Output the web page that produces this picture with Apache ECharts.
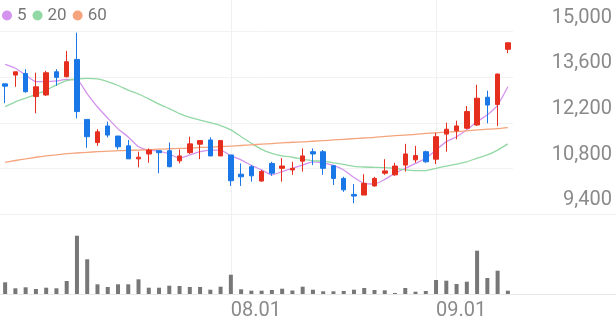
<!DOCTYPE html>
<html><head><meta charset="utf-8">
<script src="https://cdn.jsdelivr.net/npm/echarts@6/dist/echarts.min.js"></script>
<style>html,body{margin:0;padding:0;background:#fff}#c{width:616px;height:321px}</style>
</head><body><div id="c"></div>
<script>
const dates = ['07.02','07.03','07.04','07.07','07.08','07.09','07.10','07.11','07.14','07.15','07.16','07.17','07.18','07.21','07.22','07.23','07.24','07.25','07.28','07.29','07.30','07.31',
'08.01','08.04','08.05','08.06','08.07','08.08','08.11','08.12','08.13','08.14','08.18','08.19','08.20','08.21','08.22','08.25','08.26','08.27','08.28','08.29',
'09.01','09.02','09.03','09.04','09.05','09.08','09.09','09.10'];
const openP  = [13400,13670,13720,13010,13060,13770,13620,14150,12310,11600,12110,11800,11500,11100,11250,11350,11350,11040,11290,11550,11680,11190,11220,10630,10860,10420,10960,10810,10760,11030,11320,11320,10890,10500,10010,9990,10270,10660,10610,10910,11070,11320,11090,11860,11960,12040,12140,12990,12770,14460];
const closeP = [13330,13770,13160,13310,13740,13600,14080,12550,11780,11930,11830,11470,11100,11150,11370,11290,10860,11190,11560,11660,11190,11660,10430,10550,10580,10710,10660,10880,10810,11190,11250,10810,10500,10150,9960,10350,10500,10730,10880,11250,11200,11010,11780,12010,12110,12550,12960,12750,13700,14660];
const lowP   = [12810,13310,13130,12500,13030,13340,13600,12340,11440,11500,11760,11390,11100,10840,10980,10660,10840,10960,11250,11090,11190,11190,10270,10270,10400,10400,10580,10400,10610,10710,10910,10610,10300,10090,9740,9990,10250,10610,10580,10710,10980,10980,10940,11320,11700,12010,12110,12190,12110,14340];
const highP  = [13400,13770,13850,13740,13800,13850,14410,14970,12310,12010,12240,11800,11680,11320,11420,11350,11600,11390,11780,11660,11760,11660,11220,10960,10910,10760,11010,11120,11010,11420,11420,11370,10910,10550,10330,10630,10550,11090,10980,11560,11500,11350,11900,12210,12270,12720,13370,13190,13720,14660];
const ma5  = [14000,13880,13670,13470,13470,13490,13540,13530,13090,12690,12350,12020,11770,11470,11370,11340,11250,11120,11220,11320,11370,11370,11190,11070,10900,10760,10610,10710,10810,10910,11010,10970,10900,10760,10530,10350,10330,10470,10660,10810,10960,11120,11370,11630,11780,11990,12240,12450,12750,13310];
const ma20 = [12700,12850,12960,13080,13210,13370,13500,13550,13570,13550,13470,13350,13210,13090,12940,12780,12640,12490,12370,12290,12210,12120,11990,11780,11580,11390,11270,11190,11150,11090,11040,11030,10980,10930,10870,10850,10840,10830,10810,10760,10740,10740,10810,10880,10940,11010,11120,11220,11370,11560];
const ma60 = [10990,11050,11100,11150,11190,11220,11260,11280,11300,11320,11340,11350,11360,11370,11380,11400,11410,11420,11430,11450,11460,11480,11490,11510,11530,11550,11570,11590,11610,11620,11640,11660,11680,11700,11720,11740,11760,11790,11810,11830,11850,11880,11900,11920,11940,11960,11990,12010,12030,12060];
const volume = [117000,57000,67000,50000,63000,57000,130000,583000,347000,97000,70000,97000,97000,147000,63000,63000,83000,80000,70000,70000,43000,73000,193000,47000,33000,33000,40000,53000,35000,73000,43000,27000,27000,30000,43000,60000,40000,37000,10000,60000,23000,30000,140000,133000,100000,123000,433000,160000,233000,33000];
const yMin = 9400, yMax = 15000, yStep = 1400;
const xLabelDates = ['08.01','09.01'];
const maNames = ['5','20','60'];

const candles = dates.map((d,i)=>[openP[i], closeP[i], lowP[i], highP[i]]);
const chart = echarts.init(document.getElementById('c'));
const FONT = 'Roboto';
const band = 513/50;
const showIdx = (i, v) => xLabelDates.indexOf(v) >= 0;
chart.setOption({
  animation: false,
  backgroundColor: '#fff',
  legend: {
    data: maNames, left: 2, top: 7, padding: 0, icon: 'circle', itemWidth: 10, itemHeight: 10, itemGap: 6,
    textStyle: {fontSize: 17, color: '#777', fontFamily: FONT}
  },
  grid: [
    {left: 0, right: 103, top: 31.7, height: 182.6, outerBoundsMode: 'none'},
    {left: 0, right: 103, top: 214, height: 80, outerBoundsMode: 'none'},
    {left: band/2, right: 103 + band/2, top: 0, height: 294, outerBoundsMode: 'none'},
    {left: 0, right: 0, top: 214.3, height: 79.7, outerBoundsMode: 'none'}
  ],
  xAxis: [
    {gridIndex: 0, type: 'category', data: dates, boundaryGap: true, show: false},
    {gridIndex: 1, type: 'category', data: dates, boundaryGap: true, show: false},
    {gridIndex: 2, type: 'category', data: dates, boundaryGap: false,
     axisLine: {show: false}, axisTick: {show: false},
     splitLine: {show: true, interval: showIdx, lineStyle: {color: '#f0f0f0', width: 1}},
     axisLabel: {show: true, interval: showIdx, align: 'left', margin: 7, fontSize: 20, color: '#8a8a8a', fontFamily: FONT}},
    {gridIndex: 3, type: 'value', min: 0, max: 1, position: 'bottom',
     axisLine: {show: true, lineStyle: {color: '#e8e8e8', width: 1}}, axisTick: {show: false}, axisLabel: {show: false}, splitLine: {show: false}},
    {gridIndex: 3, type: 'value', min: 0, max: 1, position: 'top',
     axisLine: {show: true, lineStyle: {color: '#efefef', width: 1}}, axisTick: {show: false}, axisLabel: {show: false}, splitLine: {show: false}}
  ],
  yAxis: [
    {gridIndex: 0, type: 'value', position: 'right', min: yMin, max: yMax, interval: yStep,
     axisLine: {show: false}, axisTick: {show: false},
     splitLine: {show: true, lineStyle: {color: '#f2f2f2', width: 1}},
     axisLabel: {margin: 99, align: 'right', verticalAlign: 'bottom', lineHeight: 28, fontSize: 20, color: '#8a8a8a', fontFamily: FONT,
       formatter: v => v.toLocaleString('en-US')}},
    {gridIndex: 1, type: 'value', min: 0, max: 800000, show: false, splitLine: {show: false}},
    {gridIndex: 2, type: 'value', min: 0, max: 1, show: false, splitLine: {show: false}},
    {gridIndex: 3, type: 'value', min: 0, max: 1, show: false, splitLine: {show: false}}
  ],
  series: [
    {name: 'K', type: 'candlestick', xAxisIndex: 0, yAxisIndex: 0, data: candles, barWidth: 5,
     itemStyle: {color: '#e62e1e', color0: '#1a77e8', borderColor: '#e62e1e', borderColor0: '#1a77e8', borderWidth: 1}, z: 5},
    {name: maNames[0], type: 'line', xAxisIndex: 0, yAxisIndex: 0, data: ma5, symbol: 'none', smooth: 0.2,
     color: '#d393ee', lineStyle: {width: 1.3, color: '#d393ee'}, z: 3},
    {name: maNames[1], type: 'line', xAxisIndex: 0, yAxisIndex: 0, data: ma20, symbol: 'none', smooth: 0.2,
     color: '#92d8a4', lineStyle: {width: 1.3, color: '#92d8a4'}, z: 3},
    {name: maNames[2], type: 'line', xAxisIndex: 0, yAxisIndex: 0, data: ma60, symbol: 'none', smooth: 0.2,
     color: '#f6a47e', lineStyle: {width: 1.3, color: '#f6a47e'}, z: 3},
    {name: 'Vol', type: 'bar', xAxisIndex: 1, yAxisIndex: 1, data: volume, barWidth: 4,
     itemStyle: {color: '#777777'}}
  ]
});
</script></body></html>
